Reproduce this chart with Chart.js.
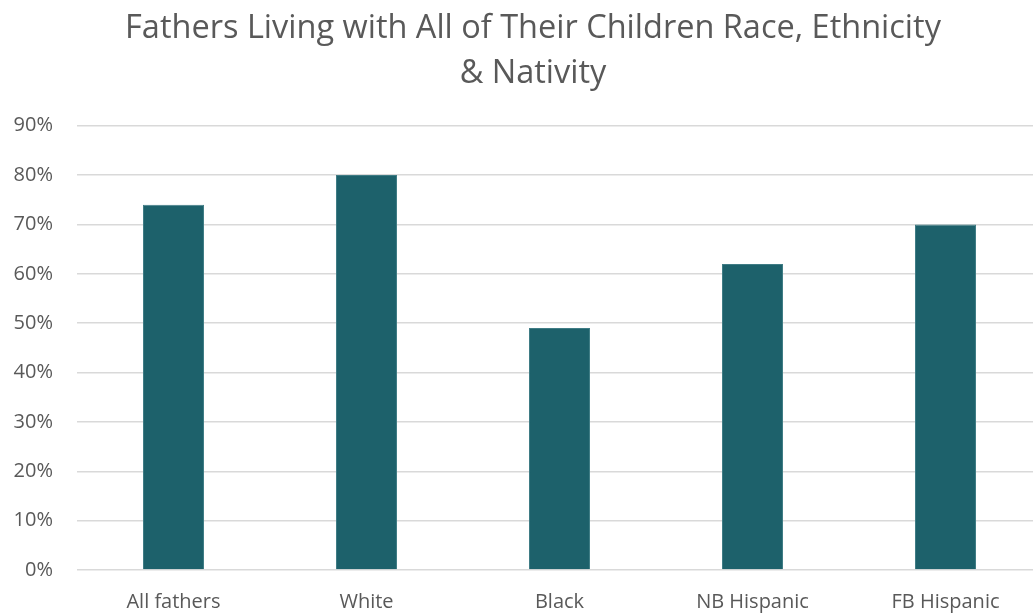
<!DOCTYPE html>
<html>
<head>
<meta charset="utf-8">
<script src="https://cdn.jsdelivr.net/npm/chart.js@4/dist/chart.umd.min.js"></script>
<style>
  html, body { margin: 0; padding: 0; background: #fff; overflow: hidden; }
  #wrap { width: 1066px; height: 614px; }
</style>
</head>
<body>
<div id="wrap"><canvas id="chart"></canvas></div>
<script>
const categories = ['All fathers', 'White', 'Black', 'NB Hispanic', 'FB Hispanic'];
const shares = [74, 80, 49, 62, 70];
const titleLines = ['Fathers Living with All of Their Children Race, Ethnicity', '& Nativity'];

const textColor = '#595959';

// the original title sits a little right of the plot centre
const shiftTitle = {
    id: 'shiftTitle',
    afterLayout(chart) {
        chart.titleBlock.left += 12;
        chart.titleBlock.right += 12;
    },
};

new Chart(document.getElementById('chart'), {
    type: 'bar',
    data: {
        labels: categories,
        datasets: [{
            data: shares,
            backgroundColor: '#1d616b',
            borderColor: '#3f7c85',
            borderWidth: 1,
            barPercentage: 0.316,
            categoryPercentage: 1,
        }],
    },
    options: {
        responsive: true,
        maintainAspectRatio: false,
        animation: false,
        layout: { padding: { left: 0, right: 24, top: 0, bottom: -12 } },
        plugins: {
            legend: { display: false },
            tooltip: { enabled: false },
            title: {
                display: true,
                text: titleLines,
                color: textColor,
                font: { family: 'Open Sans', size: 32.5, weight: 'normal', lineHeight: 1.38 },
                padding: { top: 6, bottom: 30 },
            },
        },
        scales: {
            x: {
                grid: { display: false },
                border: { display: false },
                ticks: {
                    color: textColor,
                    font: { family: 'Open Sans', size: 20 },
                    padding: 12,
                    maxRotation: 0,
                },
            },
            y: {
                min: 0,
                max: 90,
                border: { display: false },
                grid: { color: '#d9d9d9', lineWidth: 1.5, drawTicks: false },
                afterFit: axis => { axis.width = 77; },
                ticks: {
                    stepSize: 10,
                    color: textColor,
                    font: { family: 'Open Sans', size: 20 },
                    padding: 24,
                    callback: v => v + '%',
                },
            },
        },
    },
    plugins: [shiftTitle],
});
</script>
</body>
</html>
